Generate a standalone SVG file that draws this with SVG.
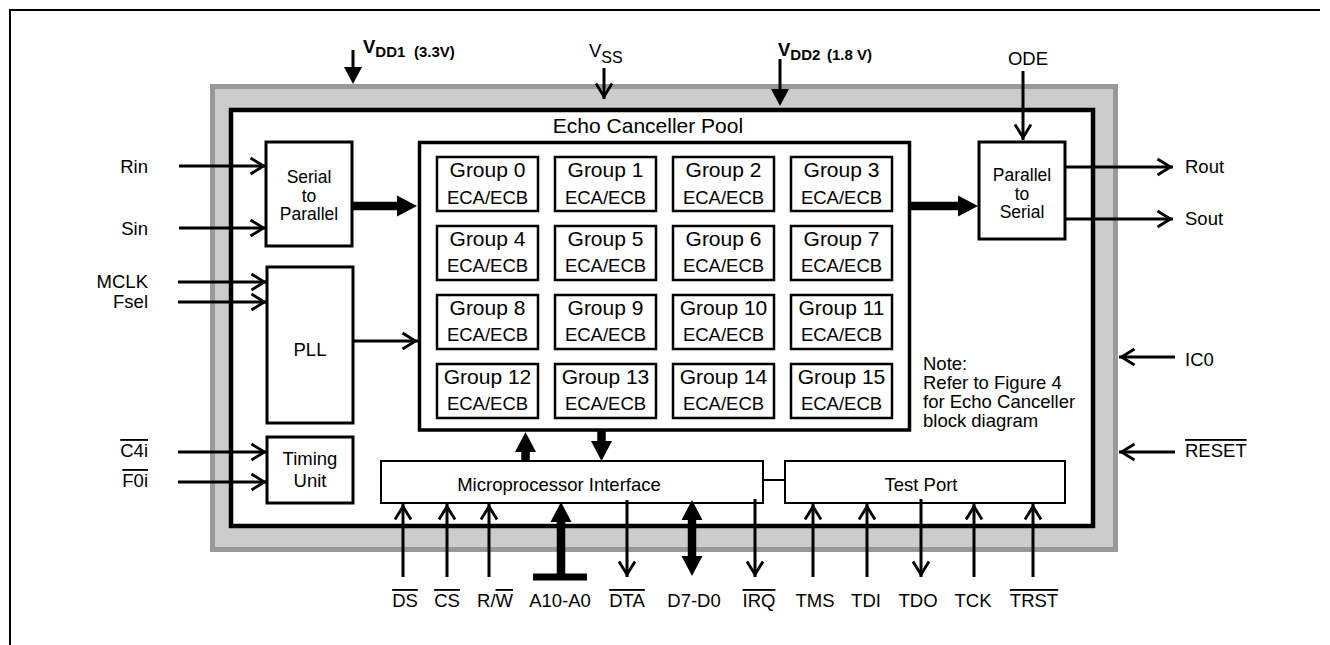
<svg xmlns="http://www.w3.org/2000/svg" width="1330" height="645" viewBox="0 0 1330 645">
<style>
text{font-family:"Liberation Sans",Arial,Helvetica,sans-serif;font-size:18.5px;fill:#000}
.c{text-anchor:middle}
.r{text-anchor:end}
.g{font-size:21px}
.s{font-size:17.5px}
.bd{font-weight:bold}
.ov{text-decoration:overline}
.blk{fill:#fff;stroke:#000;stroke-width:3}
.grp{fill:#fff;stroke:#000;stroke-width:2.5}
.thin{fill:#fff;stroke:#000;stroke-width:2}
.sig{fill:none;stroke:#000;stroke-width:3}
.bus{fill:none;stroke:#000;stroke-width:8.5}
</style>
<defs>
<marker id="open" markerUnits="userSpaceOnUse" markerWidth="20" markerHeight="20" refX="0" refY="0" orient="auto" overflow="visible">
<path d="M-15.5,-8 L-2.5,0 L-15.5,8" fill="none" stroke="#000" stroke-width="2.8"/>
</marker>
<marker id="bus" markerUnits="userSpaceOnUse" markerWidth="22" markerHeight="24" refX="0" refY="0" orient="auto-start-reverse" overflow="visible">
<path d="M0,-10.5 L20,0 L0,10.5 z" fill="#000"/>
</marker>
<marker id="pwr" markerUnits="userSpaceOnUse" markerWidth="18" markerHeight="20" refX="0" refY="0" orient="auto" overflow="visible">
<path d="M0,-9 L17,0 L0,9 z" fill="#000"/>
</marker>
</defs>
<rect width="1330" height="645" fill="#fff"/>
<path d="M10,645 V10 H1320" fill="none" stroke="#000" stroke-width="2"/>
<g id="chip">
<rect x="212.5" y="86.5" width="903" height="463" fill="#ccc" stroke="#999" stroke-width="5"/>
<rect x="231" y="110" width="862" height="416" fill="#fff" stroke="#000" stroke-width="4.5"/>
</g>
<g id="pool">
<rect x="419.5" y="142.5" width="490" height="287.5" fill="#fff" stroke="#000" stroke-width="3.5"/>
<text class="c g" x="648" y="133">Echo Canceller Pool</text>
</g>
<g id="groups">
<g id="g0"><rect class="grp" x="437" y="157" width="101" height="54"/><text class="c g" x="487.5" y="177">Group 0</text><text class="c" x="487.5" y="204">ECA/ECB</text></g>
<g id="g1"><rect class="grp" x="555" y="157" width="101" height="54"/><text class="c g" x="605.5" y="177">Group 1</text><text class="c" x="605.5" y="204">ECA/ECB</text></g>
<g id="g2"><rect class="grp" x="673" y="157" width="101" height="54"/><text class="c g" x="723.5" y="177">Group 2</text><text class="c" x="723.5" y="204">ECA/ECB</text></g>
<g id="g3"><rect class="grp" x="791" y="157" width="101" height="54"/><text class="c g" x="841.5" y="177">Group 3</text><text class="c" x="841.5" y="204">ECA/ECB</text></g>
<g id="g4"><rect class="grp" x="437" y="226" width="101" height="54"/><text class="c g" x="487.5" y="246">Group 4</text><text class="c" x="487.5" y="272">ECA/ECB</text></g>
<g id="g5"><rect class="grp" x="555" y="226" width="101" height="54"/><text class="c g" x="605.5" y="246">Group 5</text><text class="c" x="605.5" y="272">ECA/ECB</text></g>
<g id="g6"><rect class="grp" x="673" y="226" width="101" height="54"/><text class="c g" x="723.5" y="246">Group 6</text><text class="c" x="723.5" y="272">ECA/ECB</text></g>
<g id="g7"><rect class="grp" x="791" y="226" width="101" height="54"/><text class="c g" x="841.5" y="246">Group 7</text><text class="c" x="841.5" y="272">ECA/ECB</text></g>
<g id="g8"><rect class="grp" x="437" y="295" width="101" height="54"/><text class="c g" x="487.5" y="315">Group 8</text><text class="c" x="487.5" y="341">ECA/ECB</text></g>
<g id="g9"><rect class="grp" x="555" y="295" width="101" height="54"/><text class="c g" x="605.5" y="315">Group 9</text><text class="c" x="605.5" y="341">ECA/ECB</text></g>
<g id="g10"><rect class="grp" x="673" y="295" width="101" height="54"/><text class="c g" x="723.5" y="315">Group 10</text><text class="c" x="723.5" y="341">ECA/ECB</text></g>
<g id="g11"><rect class="grp" x="791" y="295" width="101" height="54"/><text class="c g" x="841.5" y="315">Group 11</text><text class="c" x="841.5" y="341">ECA/ECB</text></g>
<g id="g12"><rect class="grp" x="437" y="364" width="101" height="54"/><text class="c g" x="487.5" y="384">Group 12</text><text class="c" x="487.5" y="410">ECA/ECB</text></g>
<g id="g13"><rect class="grp" x="555" y="364" width="101" height="54"/><text class="c g" x="605.5" y="384">Group 13</text><text class="c" x="605.5" y="410">ECA/ECB</text></g>
<g id="g14"><rect class="grp" x="673" y="364" width="101" height="54"/><text class="c g" x="723.5" y="384">Group 14</text><text class="c" x="723.5" y="410">ECA/ECB</text></g>
<g id="g15"><rect class="grp" x="791" y="364" width="101" height="54"/><text class="c g" x="841.5" y="384">Group 15</text><text class="c" x="841.5" y="410">ECA/ECB</text></g>
</g>
<g id="s2p"><rect class="blk" x="266" y="142" width="86" height="104"/><text class="c s" x="309" y="183">Serial</text><text class="c s" x="309" y="202">to</text><text class="c s" x="309" y="220">Parallel</text></g>
<g id="pll"><rect class="blk" x="267" y="267" width="86" height="156"/><text class="c" x="310" y="356">PLL</text></g>
<g id="timing"><rect class="blk" x="267" y="437" width="86" height="66"/><text class="c" x="310" y="465">Timing</text><text class="c" x="310" y="487">Unit</text></g>
<g id="p2s"><rect class="blk" x="979" y="142" width="86" height="97"/><text class="c s" x="1022" y="181">Parallel</text><text class="c s" x="1022" y="200">to</text><text class="c s" x="1022" y="218">Serial</text></g>
<g id="mpi"><rect class="thin" x="381" y="461" width="382" height="42"/><text class="c" x="559" y="491">Microprocessor Interface</text></g>
<g id="testport"><rect class="thin" x="785" y="461" width="280" height="42"/><text class="c" x="921" y="491">Test Port</text></g>
<g id="note"><text x="923" y="370">Note:</text><text x="923" y="389">Refer to Figure 4</text><text x="923" y="408">for Echo Canceller</text><text x="923" y="427">block diagram</text></g>
<g id="connectors">
<path class="sig" d="M179,166 H266" marker-end="url(#open)"/>
<path class="sig" d="M179,228 H266" marker-end="url(#open)"/>
<path class="sig" d="M178,282 H267" marker-end="url(#open)"/>
<path class="sig" d="M178,302 H267" marker-end="url(#open)"/>
<path class="sig" d="M178,452 H267" marker-end="url(#open)"/>
<path class="sig" d="M178,482 H267" marker-end="url(#open)"/>
<path class="sig" d="M353,341 H418" marker-end="url(#open)"/>
<path class="bus" d="M352,206 H397" marker-end="url(#bus)"/>
<path class="bus" d="M910,206 H958" marker-end="url(#bus)"/>
<path class="sig" d="M1065,167 H1173" marker-end="url(#open)"/>
<path class="sig" d="M1065,219 H1173" marker-end="url(#open)"/>
<path class="sig" d="M1175,357 H1119" marker-end="url(#open)"/>
<path class="sig" d="M1175,452 H1119" marker-end="url(#open)"/>
<path class="sig" d="M353,50 V67" marker-end="url(#pwr)"/>
<path class="sig" d="M780,59 V89" marker-end="url(#pwr)"/>
<path class="sig" d="M604,68 V99" marker-end="url(#open)"/>
<path class="sig" d="M1023,71 V140" marker-end="url(#open)"/>
<path class="bus" d="M525.5,461 V452" marker-end="url(#bus)"/>
<path class="bus" d="M601.5,431 V441" marker-end="url(#bus)"/>
<path fill="none" stroke="#000" stroke-width="2" d="M763,480 H785"/>
<path class="sig" d="M403,577 V504" marker-end="url(#open)"/>
<path class="sig" d="M447,577 V504" marker-end="url(#open)"/>
<path class="sig" d="M489,577 V504" marker-end="url(#open)"/>
<path class="bus" d="M561,577 V522" marker-end="url(#bus)"/>
<rect x="533" y="573.5" width="54" height="7" fill="#000"/>
<path class="sig" d="M627,500 V577" marker-end="url(#open)"/>
<path class="bus" d="M692,556 V520" marker-start="url(#bus)" marker-end="url(#bus)"/>
<path class="sig" d="M755,499 V577" marker-end="url(#open)"/>
<path class="sig" d="M813,577 V504" marker-end="url(#open)"/>
<path class="sig" d="M867,577 V504" marker-end="url(#open)"/>
<path class="sig" d="M921,499 V577" marker-end="url(#open)"/>
<path class="sig" d="M974,577 V504" marker-end="url(#open)"/>
<path class="sig" d="M1033,577 V504" marker-end="url(#open)"/>
</g>
<g id="labels">
<text class="r" x="148" y="173">Rin</text>
<text class="r" x="148" y="235">Sin</text>
<text class="r" x="148" y="288">MCLK</text>
<text class="r" x="148" y="308">Fsel</text>
<text class="r ov" x="148" y="457">C4i</text>
<text class="r ov" x="148" y="487">F0i</text>
<text x="1185" y="173">Rout</text>
<text x="1185" y="225">Sout</text>
<text x="1185" y="366">IC0</text>
<text class="ov" x="1185" y="457">RESET</text>
<text class="c" x="1028" y="65">ODE</text>
<text x="589" y="57">V<tspan dy="6" font-size="16">SS</tspan></text>
<text class="bd" x="363" y="53">V<tspan dy="4" font-size="15">DD1</tspan><tspan x="414" font-size="15">(3.3V)</tspan></text>
<text class="bd" x="778" y="56">V<tspan dy="4" font-size="15">DD2</tspan><tspan x="827" font-size="15">(1.8 V)</tspan></text>
<text class="c ov" x="405" y="607">DS</text>
<text class="c ov" x="447" y="607">CS</text>
<text class="c" x="495" y="607">R/<tspan class="ov">W</tspan></text>
<text class="c" x="560" y="607">A10-A0</text>
<text class="c ov" x="627" y="607">DTA</text>
<text class="c" x="694" y="607">D7-D0</text>
<text class="c ov" x="759" y="607">IRQ</text>
<text class="c" x="815" y="607">TMS</text>
<text class="c" x="866" y="607">TDI</text>
<text class="c" x="918" y="607">TDO</text>
<text class="c" x="973" y="607">TCK</text>
<text class="c ov" x="1034" y="607">TRST</text>
</g>
</svg>
